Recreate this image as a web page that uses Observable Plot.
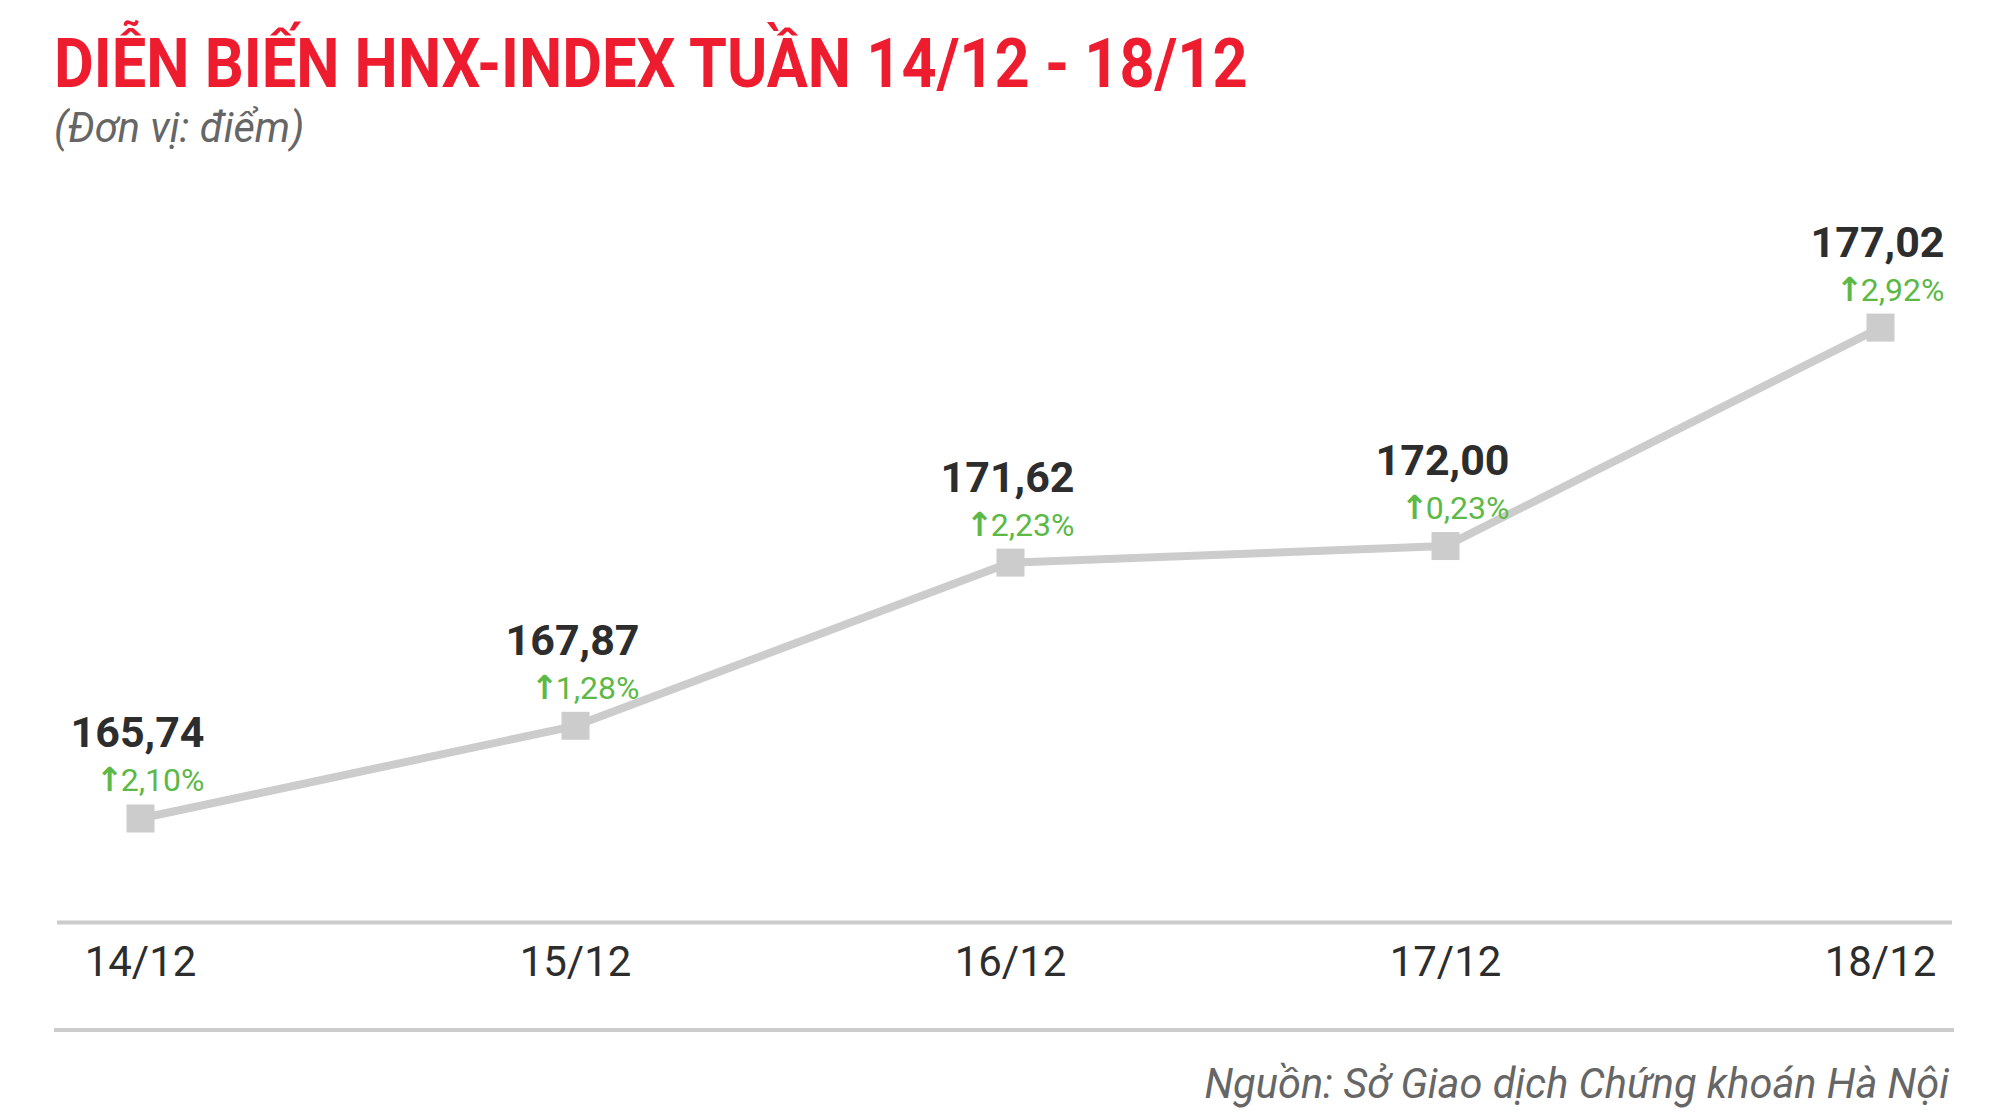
<!DOCTYPE html>
<html>
<head>
<meta charset="utf-8">
<script src="https://cdn.jsdelivr.net/npm/d3@7"></script>
<script src="https://cdn.jsdelivr.net/npm/@observablehq/plot@0.6"></script>
<style>
  html, body { margin: 0; padding: 0; background: #fff; }
  body { width: 2000px; height: 1118px; position: relative; overflow: hidden; font-family: Roboto, "Noto Sans", sans-serif; }
  #title { position: absolute; left: 54px; top: 29px; font-size: 69px; font-weight: 700; color: #ed1c2e; white-space: nowrap; line-height: 1; transform-origin: left top; transform: scaleX(0.888); }
  #subtitle { position: absolute; left: 54px; top: 107px; font-size: 41.5px; font-style: italic; color: #666; white-space: nowrap; line-height: 1; }
  #chart { position: absolute; left: 0; top: 140px; }
  #bottomrule { position: absolute; left: 54px; top: 1028px; width: 1900px; height: 4px; background: #cccccc; }
  #source { position: absolute; right: 51px; top: 1063px; font-size: 41.5px; font-style: italic; color: #666; white-space: nowrap; line-height: 1; }
</style>
</head>
<body>
<div id="title">DIỄN BIẾN HNX-INDEX TUẦN 14/12 - 18/12</div>
<div id="subtitle">(Đơn vị: điểm)</div>
<div id="chart"></div>
<div id="bottomrule"></div>
<div id="source">Nguồn: Sở Giao dịch Chứng khoán Hà Nội</div>
<script>
const dates = ["14/12", "15/12", "16/12", "17/12", "18/12"];
const values = [165.74, 167.87, 171.62, 172.00, 177.02];
const valueLabels = ["165,74", "167,87", "171,62", "172,00", "177,02"];
const changeLabels = ["2,10%", "1,28%", "2,23%", "0,23%", "2,92%"];
const upArrow = "↑";

const data = dates.map((d, i) => ({date: d, value: values[i], label: valueLabels[i], change: changeLabels[i]}));
const yMin = 163.35, yMax = 180.4;

const chart = Plot.plot({
  width: 2000,
  height: 900,
  marginTop: 40,
  marginBottom: 118,
  marginLeft: 57,
  marginRight: 48,
  style: {fontFamily: "Roboto, sans-serif", background: "transparent"},
  x: {type: "point", domain: dates, padding: 0, insetLeft: 82, insetRight: 72},
  y: {domain: [yMin, yMax], axis: null},
  marks: [
    Plot.ruleY([yMin], {stroke: "#cccccc", strokeWidth: 4}),
    Plot.axisX({tickSize: 0, tickPadding: 24, fontSize: 42, fill: "#2d2d2d", label: null}),
    Plot.line(data, {x: "date", y: "value", stroke: "#cccccc", strokeWidth: 8}),
    Plot.dot(data, {x: "date", y: "value", symbol: "square", r: 15.8, fill: "#cccccc", stroke: "none"}),
    Plot.text(data, {x: "date", y: "value", text: "label", textAnchor: "end", lineAnchor: "bottom", dx: 64, dy: -71, fontSize: 43, fontWeight: 700, fill: "#2d2d2d"}),
    Plot.text(data, {x: "date", y: "value", text: "change", textAnchor: "end", lineAnchor: "bottom", dx: 64, dy: -27, fontSize: 32, fill: "#5cb946"}),
    Plot.text(data, {x: "date", y: "value", text: () => upArrow, textAnchor: "end", lineAnchor: "bottom", dx: -17, dy: -27, fontSize: 33, fontWeight: 700, fontFamily: "DejaVu Sans", fill: "#5cb946"})
  ]
});
document.getElementById("chart").appendChild(chart);
</script>
</body>
</html>
